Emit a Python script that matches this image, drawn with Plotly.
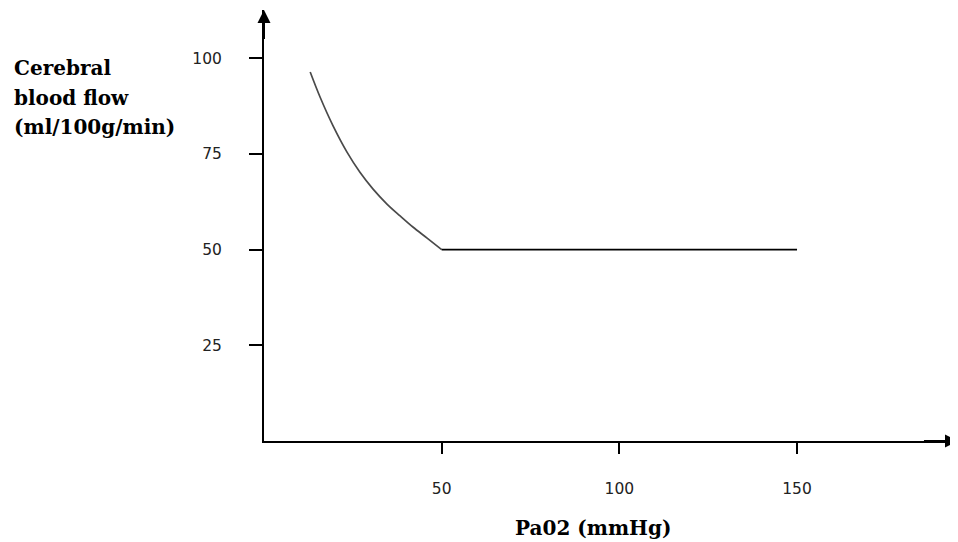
import plotly.graph_objects as go

# Data
curve_pao2 = [13, 15.8, 19.4, 23.4, 27, 30.7, 34.6, 38.3, 41.9, 45.9, 50]
curve_cbf = [96.4, 89.8, 82.4, 75.4, 70.2, 65.8, 61.9, 58.8, 55.9, 53.0, 50]
plateau_pao2 = [50, 150]
plateau_cbf = [50, 50]
x_ticks = [50, 100, 150]
y_ticks = [25, 50, 75, 100]
x_title = "Pa02 (mmHg)"
y_title_lines = ["Cerebral", "blood flow", "(ml/100g/min)"]

X_MAX = 195.3
Y_MAX = 112.6

# figure geometry (page has an 8px body margin)
W, H = 950, 534
L, R, T, B = 256, 0, 2, 101
PW, PH = W - L - R, H - T - B


def px(fx):
    return (fx - L) / PW


def py(fy):
    return (H - B - fy) / PH


fig = go.Figure()
fig.add_trace(go.Scatter(x=curve_pao2, y=curve_cbf, mode="lines",
                         line=dict(color="#4a4a4a", width=1.7, shape="spline", smoothing=1.0),
                         hoverinfo="skip", showlegend=False))
fig.add_trace(go.Scatter(x=plateau_pao2, y=plateau_cbf, mode="lines",
                         line=dict(color="#000000", width=1.7),
                         hoverinfo="skip", showlegend=False))

tick_font = dict(family="DejaVu Sans", size=15.5, color="#222222")
title_font = dict(family="DejaVu Serif", size=20, color="#000000", weight="bold")

fig.update_layout(
    width=W, height=H,
    margin=dict(l=L, r=R, t=T, b=B),
    paper_bgcolor="white", plot_bgcolor="white",
    xaxis=dict(range=[0, X_MAX], showgrid=False, zeroline=False,
               showline=True, linecolor="black", linewidth=2,
               ticks="outside", ticklen=11, tickwidth=1.5, tickcolor="black",
               tickvals=x_ticks, ticktext=[str(v) for v in x_ticks],
               tickfont=tick_font, ticklabelstandoff=21, fixedrange=True),
    yaxis=dict(range=[0, Y_MAX], showgrid=False, zeroline=False,
               showline=True, linecolor="black", linewidth=2,
               ticks="outside", ticklen=13, tickwidth=1.5, tickcolor="black",
               tickvals=y_ticks, ticktext=[str(v) for v in y_ticks],
               tickfont=tick_font, ticklabelstandoff=24, fixedrange=True),
)

# Arrowheads on the axes
fig.add_annotation(x=0, y=Y_MAX, ax=0, ay=Y_MAX - 8, xref="x", yref="y",
                   axref="x", ayref="y", text="", showarrow=True,
                   arrowhead=2, arrowsize=1.3, arrowwidth=2, arrowcolor="black")
fig.add_annotation(x=X_MAX, y=0, ax=X_MAX - 10, ay=0, xref="x", yref="y",
                   axref="x", ayref="y", text="", showarrow=True,
                   arrowhead=2, arrowsize=1.3, arrowwidth=2, arrowcolor="black")

# Axis titles
fig.add_annotation(x=px(584.5), y=py(520), xref="paper", yref="paper", text=x_title,
                   showarrow=False, font=title_font, xanchor="center", yanchor="middle")

y_centers = [60, 90, 119]
for line, yc in zip(y_title_lines, y_centers):
    fig.add_annotation(x=px(4), y=py(yc), xref="paper", yref="paper", text=line,
                       showarrow=False, font=title_font,
                       xanchor="left", yanchor="middle")

fig.write_html("out.html")
